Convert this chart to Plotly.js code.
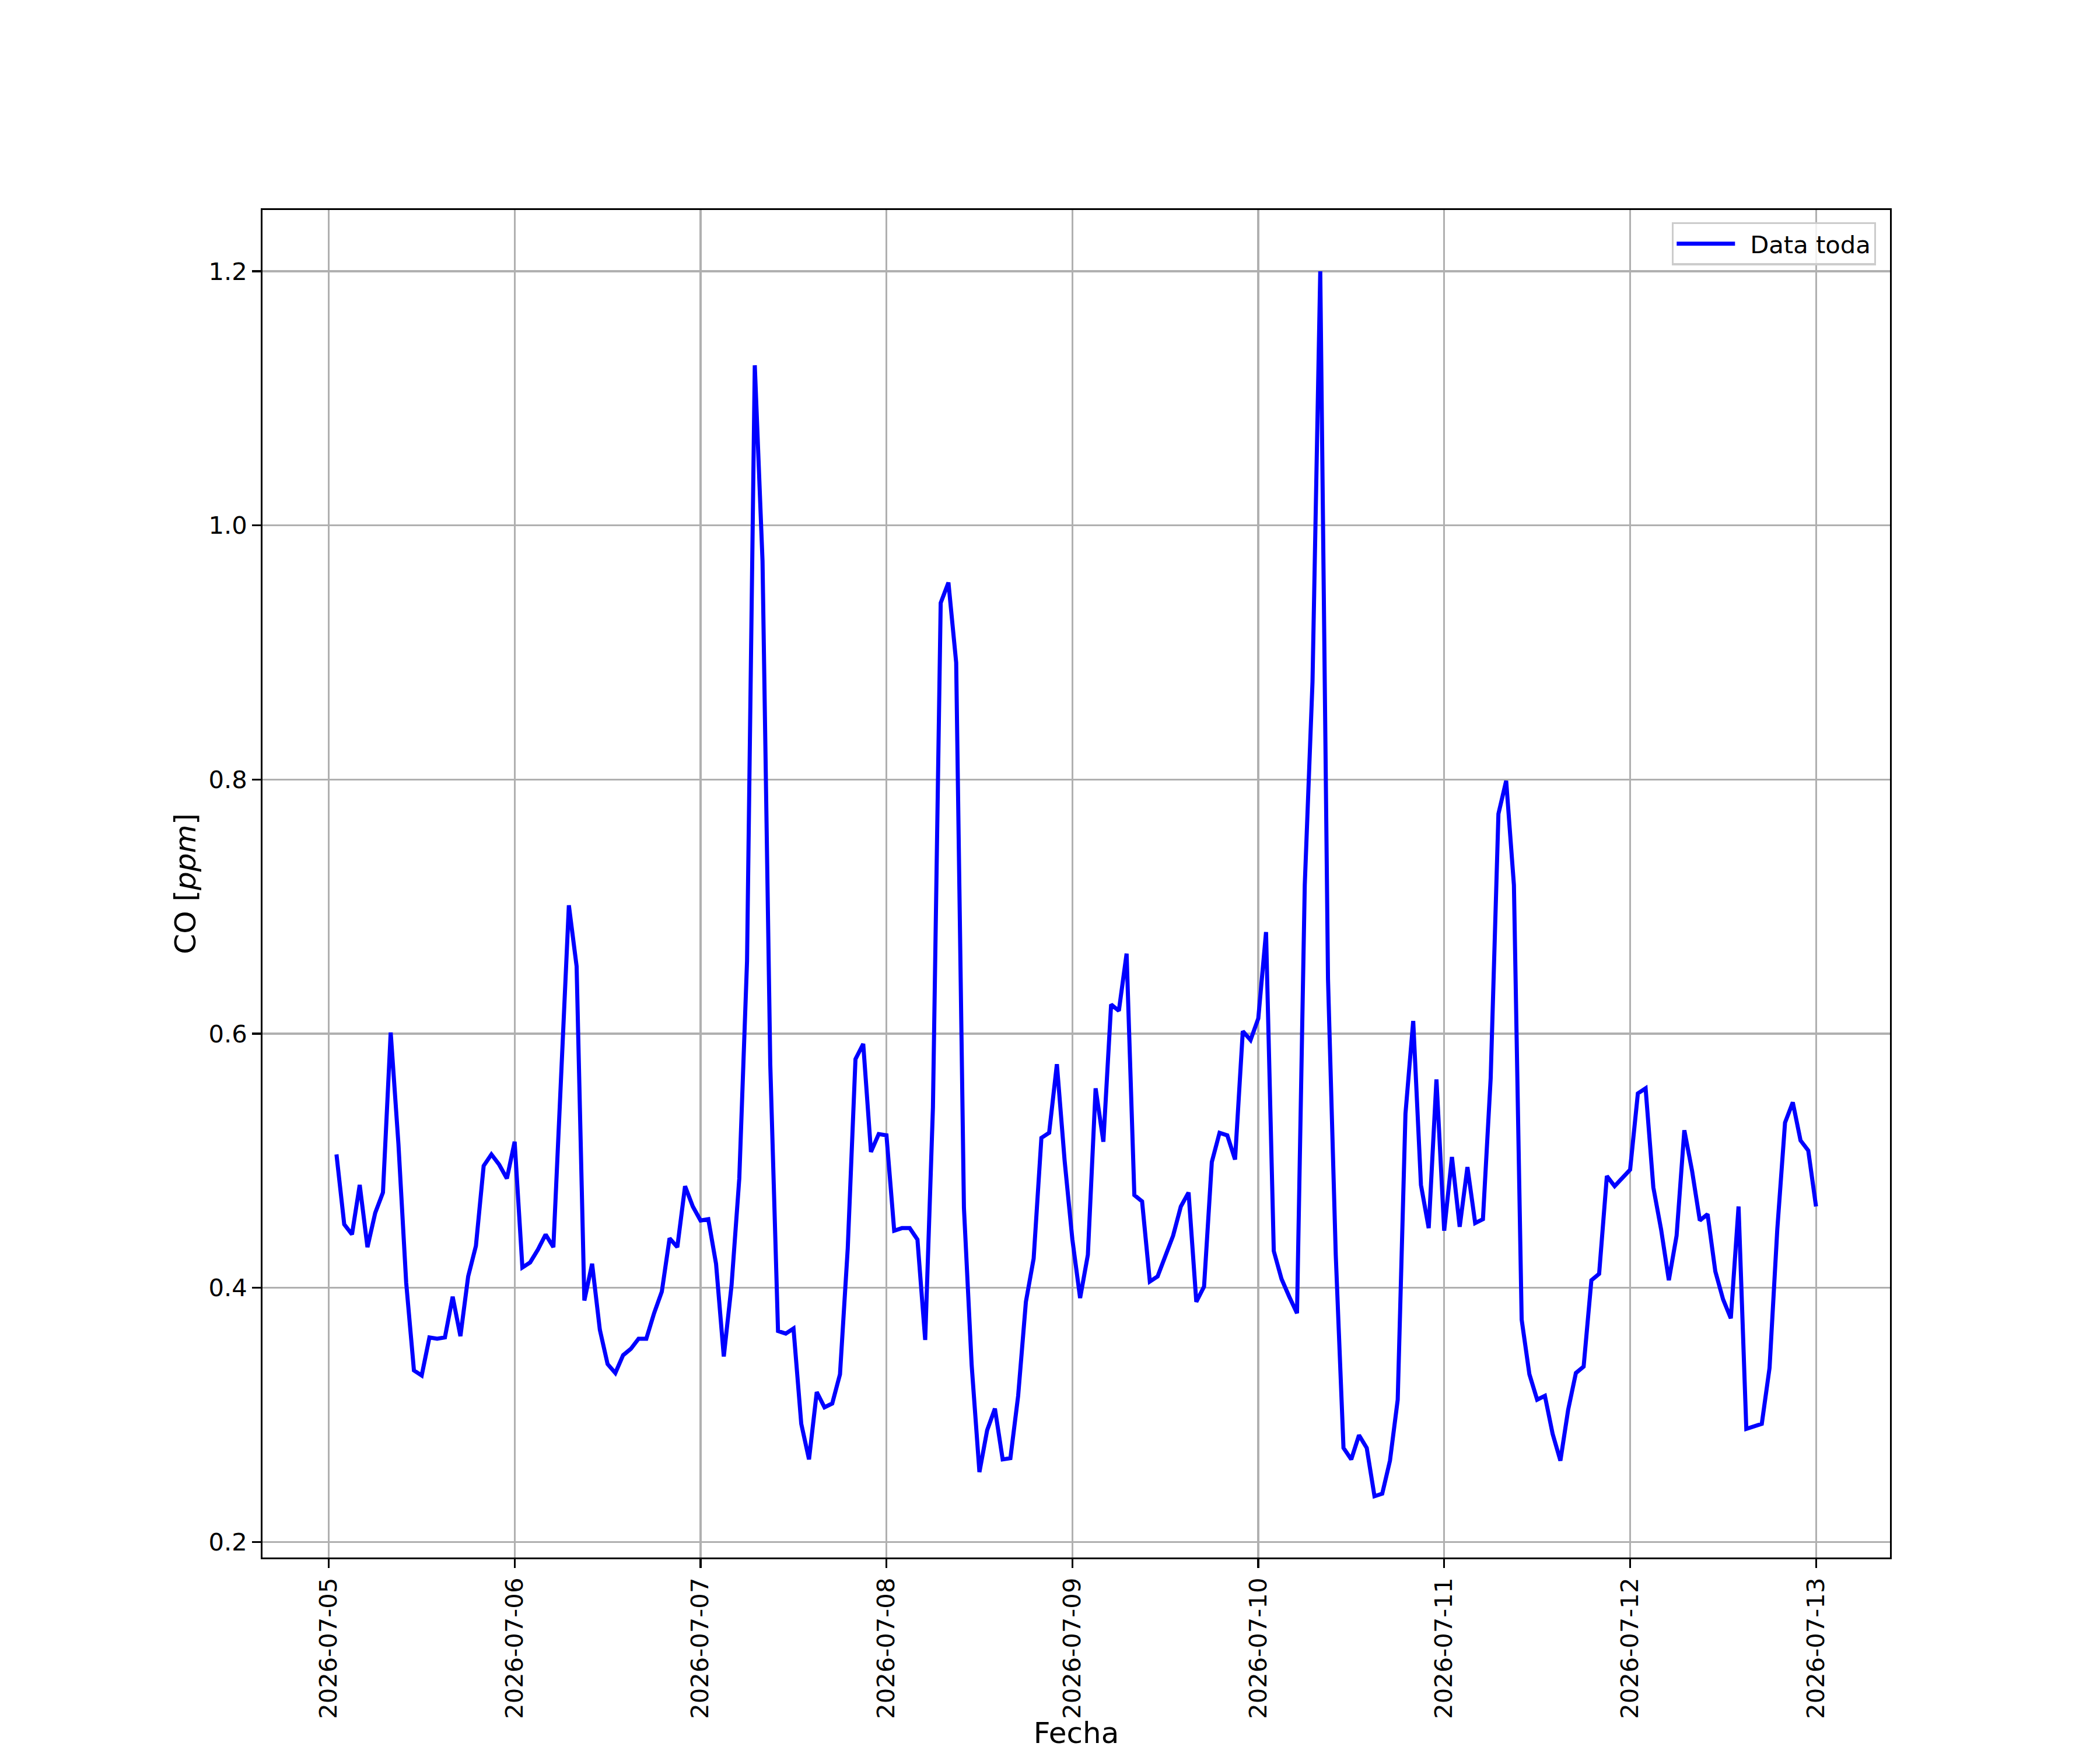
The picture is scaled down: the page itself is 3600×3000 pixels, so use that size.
<!DOCTYPE html>
<html>
<head>
<meta charset="utf-8">
<script src="https://cdn.plot.ly/plotly-3.0.1.min.js"></script>
<style>html,body{margin:0;padding:0;background:#fff;}</style>
</head>
<body>
<div id="chart" style="width:3600px;height:3000px;"></div>
<script>
// Hourly CO readings, first reading 2026-07-05 01:00
const startTime = [2026, 7, 5, 1];   // year, month, day, hour
const stepHours = 1;
const coDay1 = [0.505,0.450,0.442,0.481,0.432,0.459,0.475,0.601,0.513,0.404,0.335,0.331,0.361,0.360,0.361,0.393,0.362,0.409,0.433,0.496,0.505,0.497,0.486,0.515];
const coDay2 = [0.416,0.420,0.430,0.442,0.432,0.570,0.701,0.653,0.390,0.419,0.367,0.340,0.333,0.347,0.352,0.360,0.360,0.380,0.397,0.439,0.432,0.480,0.464,0.453];
const coDay3 = [0.454,0.419,0.346,0.402,0.486,0.657,1.126,0.972,0.576,0.366,0.364,0.368,0.293,0.265,0.318,0.306,0.309,0.332,0.431,0.580,0.592,0.507,0.521,0.520];
const coDay4 = [0.445,0.447,0.447,0.438,0.359,0.542,0.939,0.955,0.892,0.463,0.339,0.255,0.288,0.305,0.265,0.266,0.315,0.389,0.423,0.518,0.522,0.576,0.500,0.438];
const coDay5 = [0.392,0.426,0.557,0.515,0.623,0.618,0.663,0.473,0.468,0.405,0.409,0.425,0.441,0.464,0.475,0.389,0.401,0.499,0.522,0.520,0.501,0.602,0.595,0.612];
const coDay6 = [0.680,0.429,0.407,0.393,0.380,0.717,0.877,1.200,0.643,0.426,0.274,0.265,0.284,0.274,0.236,0.238,0.264,0.312,0.537,0.610,0.481,0.447,0.564,0.445];
const coDay7 = [0.503,0.448,0.495,0.451,0.454,0.565,0.773,0.799,0.717,0.375,0.332,0.312,0.315,0.285,0.264,0.304,0.333,0.338,0.406,0.411,0.488,0.480,0.486,0.493];
const coDay8 = [0.553,0.557,0.479,0.446,0.406,0.441,0.524,0.492,0.453,0.458,0.413,0.391,0.376,0.464,0.289,0.291,0.293,0.337,0.446,0.530,0.546,0.516,0.508,0.464];
const yTicks = [0.2, 0.4, 0.6, 0.8, 1.0, 1.2];
const seriesName = 'Data toda';
const xLabel = 'Fecha';
const yLabel = 'CO [<i>ppm</i>]';

const co = [].concat(coDay1, coDay2, coDay3, coDay4, coDay5, coDay6, coDay7, coDay8);
const t0 = Date.UTC(startTime[0], startTime[1] - 1, startTime[2], startTime[3]);
const fmt = ms => new Date(ms).toISOString().slice(0, 19).replace('T', ' ');
const times = co.map((_, i) => fmt(t0 + i * stepHours * 3600000));

// matplotlib-style 5% auto margins
const tStart = t0, tEnd = t0 + (co.length - 1) * stepHours * 3600000;
const tPad = (tEnd - tStart) * 0.05;
const yMin = Math.min(...co), yMax = Math.max(...co);
const yPad = (yMax - yMin) * 0.05;

const FONT = 'DejaVu Sans, Liberation Sans, sans-serif';
const tickPx = 41.7, labelPx = 50;

const trace = {
  x: times, y: co, type: 'scatter', mode: 'lines',
  name: '\u2002' + seriesName,
  line: {color: '#0000ff', width: 7}
};

const axisCommon = {
  showline: true, linecolor: '#000', linewidth: 3.3, mirror: true,
  ticks: 'outside', ticklen: 14.6, tickwidth: 3.3, tickcolor: '#000',
  showgrid: true, gridcolor: '#b0b0b0', gridwidth: 3.3,
  zeroline: false, tickfont: {family: FONT, size: tickPx, color: '#000'}
};

const layout = {
  width: 3600, height: 3000,
  paper_bgcolor: '#fff', plot_bgcolor: '#fff',
  margin: {l: 450, r: 360, t: 360, b: 330, pad: 0},
  font: {family: FONT, color: '#000'},
  showlegend: true,
  legend: {
    x: 0.9914, y: 0.991, xanchor: 'right', yanchor: 'top',
    bgcolor: 'rgba(255,255,255,0.8)', bordercolor: '#cccccc', borderwidth: 3.3,
    font: {family: FONT, size: tickPx, color: '#000'}, itemwidth: 100
  },
  xaxis: Object.assign({}, axisCommon, {
    type: 'date', range: [fmt(tStart - tPad), fmt(tEnd + tPad)],
    dtick: 86400000, tick0: '2026-07-05', tickformat: '%Y-%m-%d', tickangle: -90,
    title: {text: xLabel, font: {family: FONT, size: labelPx, color: '#000'}, standoff: 24}
  }),
  yaxis: Object.assign({}, axisCommon, {
    range: [yMin - yPad, yMax + yPad],
    tickvals: yTicks, tickformat: '.1f',
    title: {text: yLabel, font: {family: FONT, size: labelPx, color: '#000'}, standoff: 7}
  })
};

Plotly.newPlot('chart', [trace], layout, {staticPlot: true, displayModeBar: false});
</script>
</body>
</html>
